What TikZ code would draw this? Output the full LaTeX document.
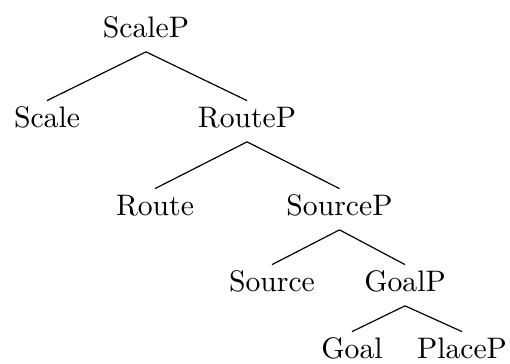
\documentclass[tikz,border=0pt]{standalone}
\begin{document}
\begin{tikzpicture}[x=0.337pt,y=-0.337pt,
  lbl/.style={anchor=base,inner sep=0pt,font=\fontsize{10}{12}\selectfont},
  edge/.style={draw=black,line width=0.4pt}]
\useasboundingbox (0,0) rectangle (510,363);
\node[lbl] (scalep) at (146,37) {ScaleP};
\node[lbl] (scale) at (47,127) {Scale};
\node[lbl] (routep) at (247,127) {RouteP};
\node[lbl] (route) at (155,215) {Route};
\node[lbl] (sourcep) at (339.5,215) {SourceP};
\node[lbl] (source) at (272,291) {Source};
\node[lbl] (goalp) at (405,291) {GoalP};
\node[lbl] (goal) at (352,358) {Goal};
\node[lbl] (placep) at (462,358) {PlaceP};
\foreach \p/\c in {scalep/scale,scalep/routep,routep/route,routep/sourcep,sourcep/source,sourcep/goalp,goalp/goal,goalp/placep}
  \draw[edge] ([yshift=-5pt]\p.base) -- ([yshift=8.9pt]\c.base);
\end{tikzpicture}
\end{document}
